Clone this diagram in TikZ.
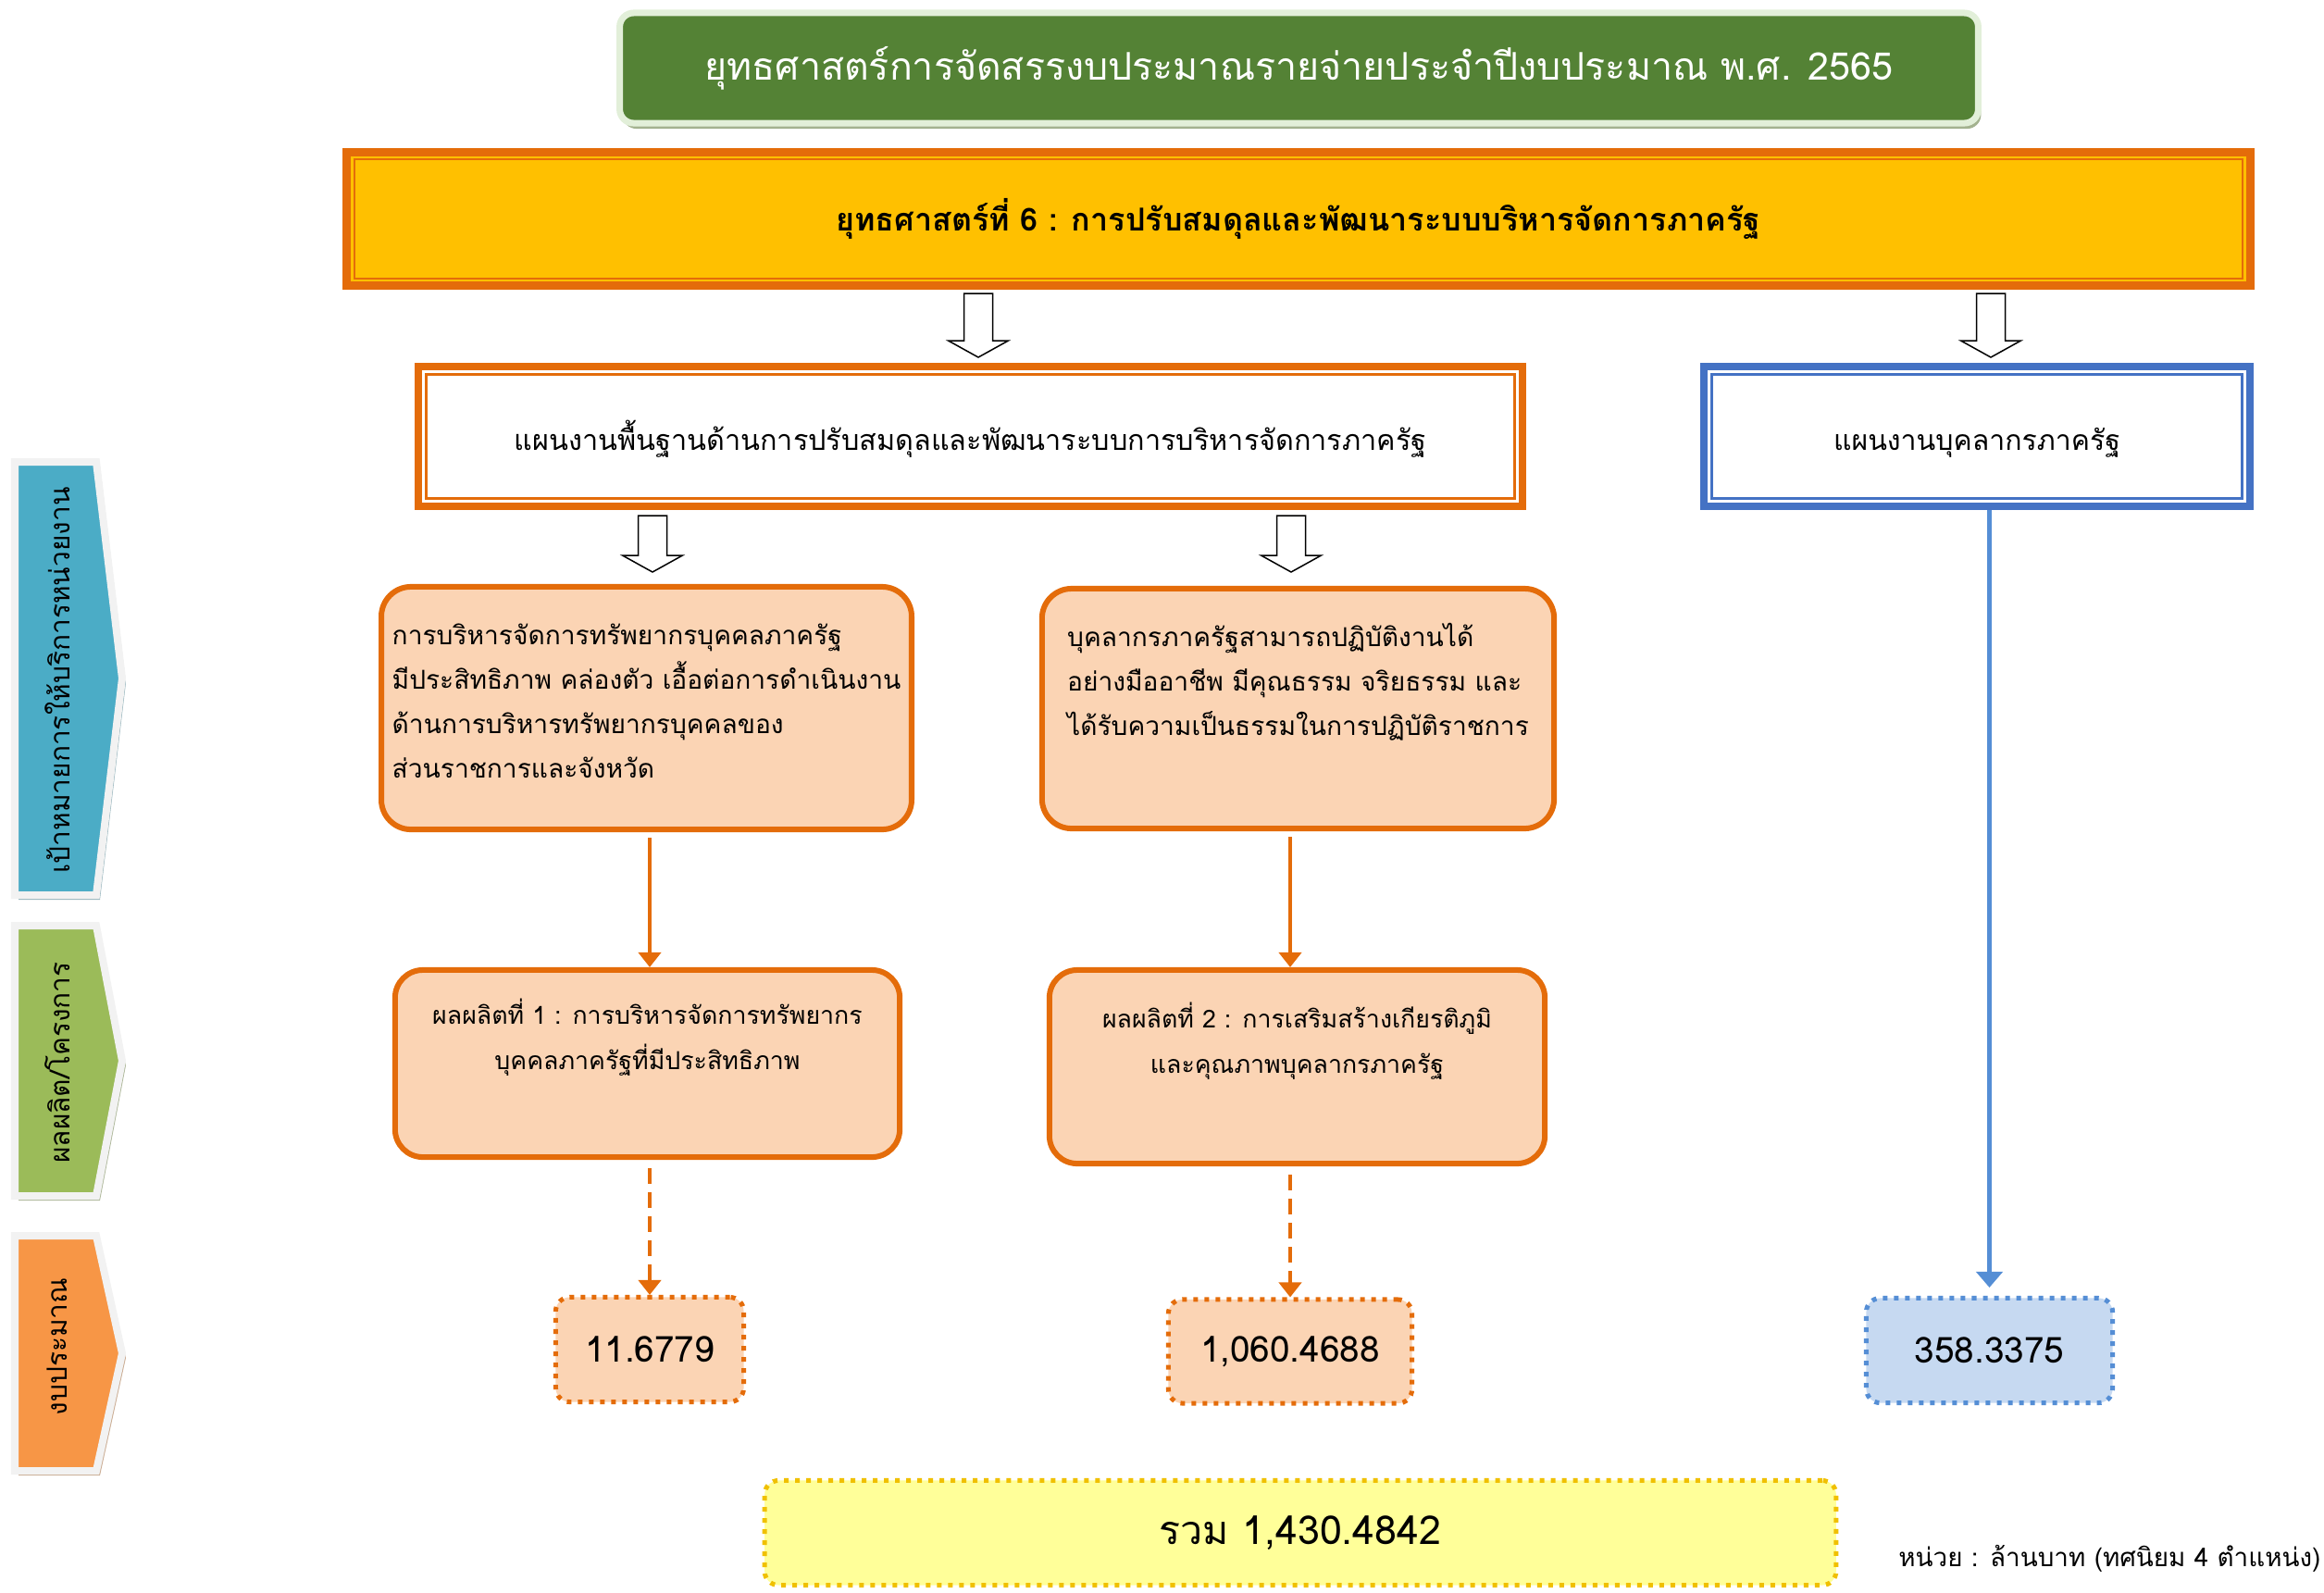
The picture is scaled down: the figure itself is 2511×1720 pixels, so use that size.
\documentclass[tikz,border=0pt]{standalone}
\usepackage{fontspec}
\usepackage{xcolor}
\usepackage{tikz}
\usetikzlibrary{arrows.meta,shadows}

\newfontfamily\thaifont[Script=Thai]{Loma}
\newcommand{\thsize}[2]{\thaifont\fontsize{#1}{#2}\selectfont}

\definecolor{titlegreen}{HTML}{548235}
\definecolor{titleedge}{HTML}{E2EFD9}
\definecolor{titleshade}{HTML}{A3B28F}
\definecolor{stratyellow}{HTML}{FFC000}
\definecolor{planorange}{HTML}{E46C0A}
\definecolor{planblue}{HTML}{4472C4}
\definecolor{peach}{HTML}{FBD4B4}
\definecolor{lineblue}{HTML}{558ED5}
\definecolor{budgetblue}{HTML}{C6D9F1}
\definecolor{totalfill}{HTML}{FFFF99}
\definecolor{totaldots}{HTML}{F0C000}
\definecolor{chevblue}{HTML}{4BACC6}
\definecolor{chevgreen}{HTML}{9BBB59}
\definecolor{chevorange}{HTML}{F79646}
\definecolor{chevedge}{HTML}{F2F2F2}

\begin{document}
\begin{tikzpicture}[x=0.01cm,y=-0.01cm,
    titlebox/.style={draw=titleedge, line width=0.07cm, fill=titlegreen, rounded corners=0.15cm,
      text=white, font=\thsize{11.7}{14}, minimum width=14.67cm, minimum height=1.19cm,
      drop shadow={fill=titleshade, opacity=1, shadow xshift=0.03cm, shadow yshift=-0.06cm}},
    stratbox/.style={draw=planorange, line width=0.09cm, fill=stratyellow,
      minimum width=20.55cm, minimum height=1.44cm, font=\thsize{9.7}{12}\bfseries},
    planbox/.style={draw=#1, line width=0.08cm, fill=white, minimum height=1.51cm,
      text height=0.35cm, text depth=0.05cm, font=\thsize{8.7}{11}},
    goalbox/.style={draw=planorange, line width=0.06cm, fill=peach, rounded corners=0.32cm,
      align=left, font=\thsize{8}{13.66}},
    prodbox/.style={draw=planorange, line width=0.06cm, fill=peach, rounded corners=0.3cm,
      align=center, font=\thsize{7.6}{14}},
    budgetbox/.style 2 args={draw=#1, fill=#2, line width=0.05cm, dash pattern=on 0.05cm off 0.07cm,
      rounded corners=0.15cm, font=\thsize{11}{13}},
    chevron/.style={fill=#1, draw=chevedge, line width=0.08cm, line join=miter,
      drop shadow={fill=#1!45!gray!70!white, opacity=1, shadow xshift=0.04cm, shadow yshift=-0.05cm}},
    chevtext/.style={rotate=90, font=\thsize{8.5}{10}},
    orangeflow/.style={draw=planorange, line width=0.04cm, -{Triangle[width=0.24cm,length=0.16cm]}},
    dashflow/.style={orangeflow, dash pattern=on 0.17cm off 0.09cm},
    blueflow/.style={draw=lineblue, line width=0.045cm, -{Triangle[width=0.28cm,length=0.17cm]}},
    downblock/.pic={\draw[black, line width=0.015cm, fill=white, line join=miter]
      (-15.5,0) -- (15.5,0) -- (15.5,#1) -- (32.5,#1) -- (0,#1+18) -- (-32.5,#1) -- (-15.5,#1) -- cycle;}]
    \useasboundingbox (0,0) rectangle (2511,1720);

    % Side labels
    \filldraw[chevron=chevblue] (16,499) -- (104,499) -- (132,733) -- (104,967) -- (16,967) -- cycle;
    \filldraw[chevron=chevgreen] (16,1000) -- (104,1000) -- (132,1146) -- (104,1292) -- (16,1292) -- cycle;
    \filldraw[chevron=chevorange] (16,1335) -- (104,1335) -- (132,1462) -- (104,1589) -- (16,1589) -- cycle;
    \node[chevtext] (lblgoal) at (62,735) {เป้าหมายการให้บริการหน่วยงาน};
    \node[chevtext] (lblprod) at (62,1148) {ผลผลิต/โครงการ};
    \node[chevtext] (lblbudget) at (62,1455) {งบประมาณ};

    % Header
    \node[titlebox] (title) at (1403.5,73.5) {ยุทธศาสตร์การจัดสรรงบประมาณรายจ่ายประจำปีงบประมาณ พ.ศ. 2565};
    \node[stratbox] (strat) at (1403,236.5) {ยุทธศาสตร์ที่ 6 : การปรับสมดุลและพัฒนาระบบบริหารจัดการภาครัฐ};

    % Plans
    \node[planbox=planorange, minimum width=11.93cm] (plana) at (1048.5,471.5)
      {แผนงานพื้นฐานด้านการปรับสมดุลและพัฒนาระบบการบริหารจัดการภาครัฐ};
    \node[planbox=planblue, minimum width=5.90cm, font=\thsize{8.6}{11}] (planb) at (2136,471.5) {แผนงานบุคลากรภาครัฐ};

    % Inner frames
    \draw[planorange, line width=0.02cm] ([shift={(12.5,12.5)}]strat.north west) rectangle ([shift={(-12.5,-12.5)}]strat.south east);
    \draw[planorange, line width=0.03cm] ([shift={(12.5,12.5)}]plana.north west) rectangle ([shift={(-12.5,-12.5)}]plana.south east);
    \draw[planblue, line width=0.03cm] ([shift={(12.5,12.5)}]planb.north west) rectangle ([shift={(-12.5,-12.5)}]planb.south east);

    % Goals
    \node[goalbox, minimum width=5.71cm, minimum height=2.62cm] (goala) at (698.5,765)
      {การบริหารจัดการทรัพยากรบุคคลภาครัฐ\\มีประสิทธิภาพ คล่องตัว เอื้อต่อการดำเนินงาน\\ด้านการบริหารทรัพยากรบุคคลของ\\ส่วนราชการและจังหวัด\\[-0.32cm]\mbox{}};
    \node[goalbox, minimum width=5.53cm, minimum height=2.59cm] (goalb) at (1402.5,765.5)
      {บุคลากรภาครัฐสามารถปฏิบัติงานได้\\อย่างมืออาชีพ มีคุณธรรม จริยธรรม และ\\ได้รับความเป็นธรรมในการปฏิบัติราชการ\\\mbox{}\\[-0.32cm]\mbox{}};

    % Products
    \node[prodbox, minimum width=5.45cm, minimum height=2.02cm] (proda) at (699.5,1149)
      {ผลผลิตที่ 1 : การบริหารจัดการทรัพยากร\\บุคคลภาครัฐที่มีประสิทธิภาพ\\[0.14cm]\mbox{}};
    \node[prodbox, minimum width=5.35cm, minimum height=2.09cm] (prodb) at (1401.5,1152.5)
      {ผลผลิตที่ 2 : การเสริมสร้างเกียรติภูมิ\\และคุณภาพบุคลากรภาครัฐ\\[0.14cm]\mbox{}};

    % Budgets
    \node[budgetbox={planorange}{peach}, minimum width=2.03cm, minimum height=1.13cm] (budgeta) at (702,1458) {11.6779};
    \node[budgetbox={planorange}{peach}, minimum width=2.63cm, minimum height=1.12cm] (budgetb) at (1394,1460) {1,060.4688};
    \node[budgetbox={lineblue}{budgetblue}, minimum width=2.66cm, minimum height=1.13cm] (budgetc) at (2149.5,1459) {358.3375};
    \node[budgetbox={totaldots}{totalfill}, minimum width=11.57cm, minimum height=1.13cm, font=\thsize{12.2}{14}] (total) at (1405,1656) {รวม 1,430.4842};
    \node[anchor=east, inner sep=0pt, font=\thsize{7.9}{10}] (unit) at (2508,1684) {หน่วย : ล้านบาท (ทศนิยม 4 ตำแหน่ง)};

    % Block arrows
    \pic at (1057,317) {downblock=51};
    \pic at (2151,317) {downblock=51};
    \pic at (705,557) {downblock=43};
    \pic at (1395,557) {downblock=43};

    % Arrows
    \draw[orangeflow, shorten <=0.06cm] (goala.south -| budgeta.north) -- (proda.north -| budgeta.north);
    \draw[orangeflow, shorten <=0.06cm] (goalb.south -| budgetb.north) -- (prodb.north -| budgetb.north);
    \draw[dashflow, shorten <=0.09cm] (proda.south -| budgeta.north) -- (budgeta.north);
    \draw[dashflow, shorten <=0.09cm] (prodb.south -| budgetb.north) -- (budgetb.north);
    \draw[blueflow, shorten >=0.09cm] (planb.south -| budgetc.north) -- (budgetc.north);
  \end{tikzpicture}
\end{document}
